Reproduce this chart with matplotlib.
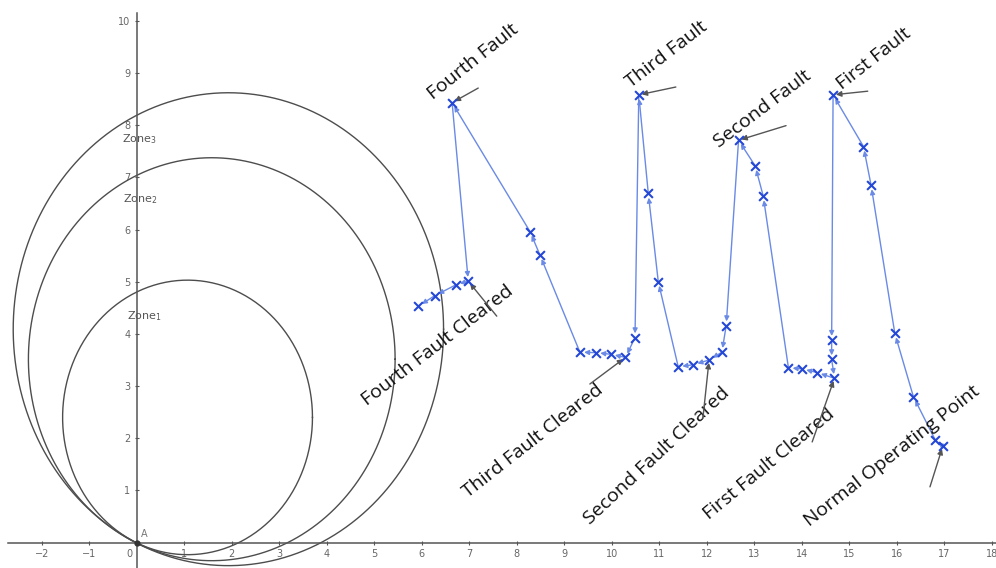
import numpy as np
import matplotlib
matplotlib.use("Agg")
import matplotlib.pyplot as plt

# Impedance trajectory (R, X) in the order it is travelled
traj_r = [16.97, 16.81, 16.35, 15.96, 15.46, 15.30, 14.66, 14.63, 14.63, 14.69,
          14.32, 14.01, 13.72, 13.19, 13.02, 12.67, 12.41, 12.32, 12.05, 11.72,
          11.40, 10.98, 10.77, 10.57, 10.49, 10.29, 9.98, 9.67, 9.33, 8.49,
          8.28, 6.64, 6.98, 6.72, 6.27, 5.93]
traj_x = [1.85, 1.97, 2.80, 4.01, 6.85, 7.59, 8.58, 3.88, 3.51, 3.15,
          3.26, 3.33, 3.35, 6.64, 7.22, 7.71, 4.16, 3.65, 3.50, 3.41,
          3.37, 5.00, 6.69, 8.58, 3.93, 3.55, 3.61, 3.64, 3.65, 5.51,
          5.96, 8.43, 5.01, 4.94, 4.73, 4.53]

# Mho zone circles: centre R, centre X, radius
zone_names = ["Zone$_1$", "Zone$_2$", "Zone$_3$"]
zone_cr = [1.07, 1.58, 1.93]
zone_cx = [2.40, 3.515, 4.09]
zone_rad = [2.63, 3.86, 4.53]

# Event labels and the trajectory point each one refers to
event_labels = ["Normal Operating Point", "First Fault", "First Fault Cleared",
                "Second Fault", "Second Fault Cleared", "Third Fault",
                "Third Fault Cleared", "Fourth Fault", "Fourth Fault Cleared"]
event_index = [0, 6, 9, 15, 18, 23, 25, 31, 32]

x_ticks = [-2, -1, 1, 2, 3, 4, 5, 6, 7, 8, 9, 10, 11, 12, 13, 14, 15, 16, 17, 18]
y_ticks = [1, 2, 3, 4, 5, 6, 7, 8, 9, 10]

# layout: label baseline start (data), rotation, pointer tail (data)
label_pos = [(14.17, 0.30), (14.85, 8.67), (12.05, 0.43),
             (12.25, 7.56), (9.55, 0.34), (10.40, 8.71),
             (6.98, 0.86), (6.24, 8.48), (4.84, 2.62)]
label_rot = [38, 38, 39.5, 37, 43, 37.5, 38, 38.5, 37.5]
tail_pos = [(16.70, 1.07), (15.39, 8.65), (14.22, 1.93),
            (13.67, 7.99), (11.92, 2.39), (11.35, 8.73),
            (9.54, 3.04), (7.19, 8.71), (7.58, 4.34)]

fig = plt.figure(figsize=(9.96, 5.68), dpi=100)
ax = fig.add_axes([0, 0, 1, 1])
ax.set_xlim(-2.878, 18.09)
ax.set_ylim(-0.485, 10.397)

axis_col = "#555555"
for s in ["top", "right"]:
    ax.spines[s].set_visible(False)
ax.spines["left"].set_position(("data", 0))
ax.spines["bottom"].set_position(("data", 0))
ax.spines["left"].set_bounds(-0.485, 10.15)
ax.spines["bottom"].set_bounds(-2.72, 18.09)
for s in ["left", "bottom"]:
    ax.spines[s].set_color(axis_col)
    ax.spines[s].set_linewidth(1.1)

ax.set_xticks(x_ticks)
ax.set_yticks(y_ticks)
ax.tick_params(axis="both", direction="inout", length=3, width=0.8,
               colors=axis_col, labelsize=7, labelcolor="#666666")
ax.tick_params(axis="x", pad=3)
ax.tick_params(axis="y", pad=3)
ax.text(-0.15, -0.22, "0", fontsize=7, color="#666666", ha="center", va="center")

# zone circles
t = np.linspace(0, 2 * np.pi, 400)
for cr, cx, rad in zip(zone_cr, zone_cx, zone_rad):
    ax.plot(cr + rad * np.cos(t), cx + rad * np.sin(t), color="#4d4d4d", lw=1.0,
            zorder=2)
zone_text_pos = [(-0.2, 4.34), (-0.29, 6.58), (-0.31, 7.73)]
for name, (tx, ty) in zip(zone_names, zone_text_pos):
    ax.text(tx, ty, name, fontsize=8, color="#555555", ha="left", va="center")

# origin point A
ax.plot([0], [0], "o", color="#333333", ms=3.5, zorder=5)
ax.text(0.08, 0.16, "A", fontsize=7, color="#777777", ha="left", va="center")

# trajectory segments with arrowheads
line_col = "#6a8ae6"
for i in range(len(traj_r) - 1):
    ax.annotate("", xy=(traj_r[i + 1], traj_x[i + 1]),
                xytext=(traj_r[i], traj_x[i]),
                arrowprops=dict(arrowstyle="-|>", color=line_col, lw=1.0,
                                mutation_scale=7, shrinkA=0, shrinkB=3),
                zorder=3)
ax.scatter(traj_r, traj_x, marker="x", s=40, color="#2447d6", linewidths=1.5,
           zorder=4)

# event labels with pointers
for lab, idx, (lx, ly), rot, (ax0, ay0) in zip(event_labels, event_index,
                                               label_pos, label_rot, tail_pos):
    ax.text(lx, ly, lab, fontsize=14, family="Open Sans", rotation=rot,
            rotation_mode="anchor", ha="left", va="baseline", color="#111111")
    ax.annotate("", xy=(traj_r[idx], traj_x[idx]), xytext=(ax0, ay0),
                arrowprops=dict(arrowstyle="-|>", color="#555555", lw=1.0,
                                mutation_scale=8, shrinkA=0, shrinkB=2),
                zorder=3)

fig.savefig("out.png", dpi=100)
